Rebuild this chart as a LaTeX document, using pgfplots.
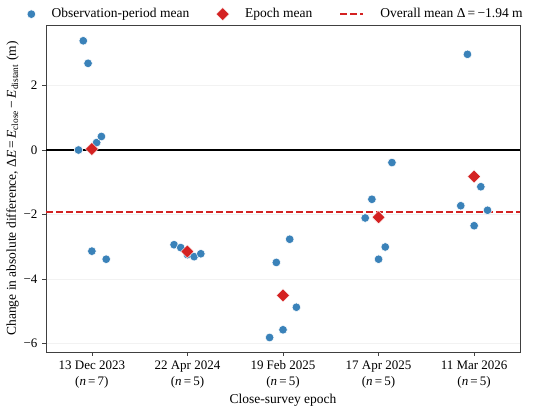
\documentclass[border=0pt]{standalone}
\usepackage{pgfplots}
\pgfplotsset{compat=1.18}
\usepackage{fontspec}
\setmainfont{Liberation Serif}
\usetikzlibrary{calc}
\definecolor{obsblue}{HTML}{3A82B9}
\definecolor{epred}{HTML}{D42222}
\definecolor{framegray}{HTML}{404040}
\pgfplotsset{mylegline/.style={legend image code/.code={\draw[##1] (0pt,0pt) -- (23pt,0pt);}}}
\begin{document}
\fontsize{13}{15}\selectfont
\begin{tikzpicture}
\begin{axis}[
  scale only axis,
  width=474pt, height=327pt,
  xmin=-0.48, xmax=4.48,
  ymin=-6.27, ymax=3.88,
  xtick={0,1,2,3,4},
  xticklabels={{13 Dec 2023\\(\textit{n}\,=\,7)},{22 Apr 2024\\(\textit{n}\,=\,5)},{19 Feb 2025\\(\textit{n}\,=\,5)},{17 Apr 2025\\(\textit{n}\,=\,5)},{11 Mar 2026\\(\textit{n}\,=\,5)}},
  xticklabel style={align=center, font=\fontsize{13}{16}\selectfont},
  ytick={-6,-4,-2,0,2},
  yticklabels={−6,−4,−2,0,2},
  yticklabel style={font=\fontsize{13}{15}\selectfont},
  tick align=outside,
  xtick pos=bottom, ytick pos=left,
  major tick length=4pt,
  tick style={framegray, line width=0.6pt},
  axis line style={framegray, line width=0.8pt},
  ymajorgrids,
  grid style={gray!10, line width=0.6pt},
  xlabel={Close-survey epoch},
  ylabel={Change in absolute difference, Δ\textit{E}\,=\,\textit{E}\textsubscript{close}\,−\,\textit{E}\textsubscript{distant} (m)},
  label style={font=\fontsize{13.5}{15}\selectfont},
  xlabel style={yshift=3pt},
  ylabel style={yshift=-4pt},
  legend columns=3,
  legend style={at={(0.485,1.0)}, anchor=south, draw=none, fill=none, yshift=1pt,
    /tikz/every odd column/.append style={column sep=14pt},
    /tikz/every even column/.append style={column sep=25pt},
    font=\fontsize{13.5}{15}\selectfont},
  legend cell align=left,
  clip=false,
]
\addplot[black, line width=1.1pt, forget plot] coordinates {(-0.48,0) (4.48,0)};
\addplot[only marks, mark=*, mark size=4.3pt, color=obsblue, mark options={draw=white, line width=0.5pt, fill=obsblue}]
coordinates {
(-0.09,3.39) (-0.04,2.69) (-0.14,0.00) (0.05,0.23) (0.10,0.42) (0.00,-3.14) (0.15,-3.39)
(0.86,-2.94) (0.93,-3.03) (1.00,-3.25) (1.07,-3.31) (1.14,-3.22)
(2.07,-2.77) (1.93,-3.49) (2.14,-4.88) (2.00,-5.58) (1.86,-5.82)
(3.14,-0.39) (2.93,-1.53) (2.86,-2.11) (3.07,-3.01) (3.00,-3.39)
(3.93,2.97) (4.07,-1.14) (3.86,-1.73) (4.14,-1.87) (4.00,-2.35)
};
\addlegendentry{Observation-period mean}
\addplot[only marks, mark=square*, mark size=4.6pt, color=epred, mark options={rotate=45, draw=white, line width=0.4pt, fill=epred}]
coordinates {(0,0.03) (1,-3.15) (2,-4.51) (3,-2.09) (4,-0.82)};
\addlegendentry{Epoch mean}
\addplot[epred, line width=2pt, dash pattern=on 6.5pt off 3.5pt, mylegline] coordinates {(-0.48,-1.94) (4.48,-1.94)};
\addlegendentry{Overall mean Δ\,=\,−1.94 m}
\coordinate (SW) at (rel axis cs:0,0);
\coordinate (NE) at (rel axis cs:1,1);
\end{axis}
\pgfresetboundingbox
\path[use as bounding box] ($(SW)+(-46pt,-58pt)$) rectangle ($(NE)+(30pt,25pt)$);
\end{tikzpicture}
\end{document}
